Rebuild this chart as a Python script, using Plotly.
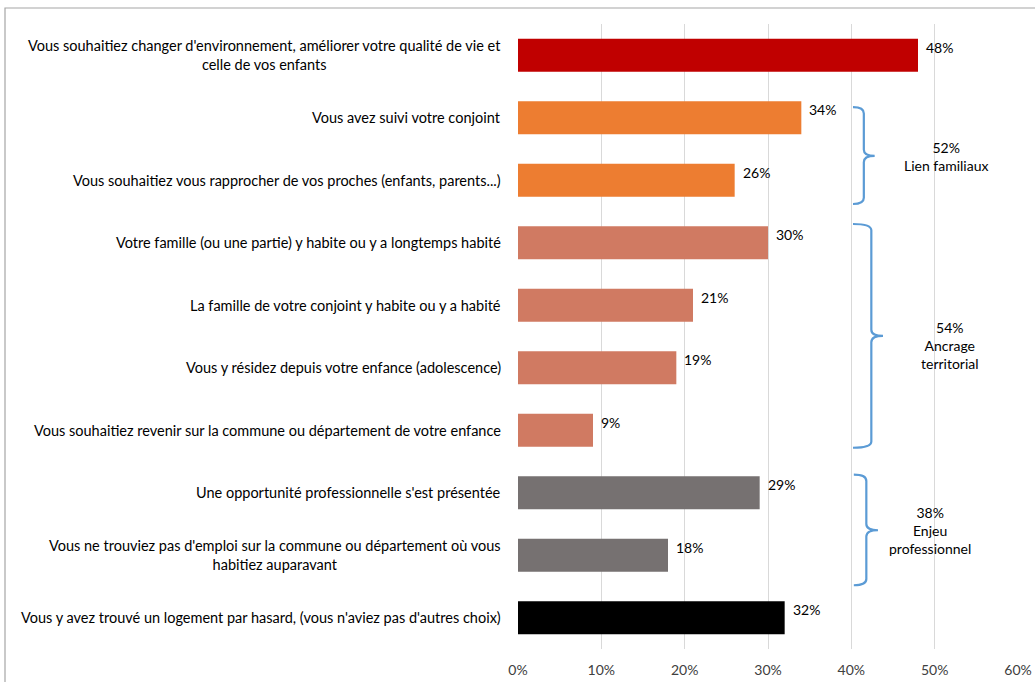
import plotly.graph_objects as go

categories = [
    "Vous souhaitiez changer d'environnement, améliorer votre qualité de vie et<br>celle de vos enfants",
    "Vous avez suivi votre conjoint",
    "Vous souhaitiez vous rapprocher de vos proches (enfants, parents...)",
    "Votre famille (ou une partie) y habite ou y a longtemps habité",
    "La famille de votre conjoint y habite ou y a habité",
    "Vous y résidez depuis votre enfance (adolescence)",
    "Vous souhaitiez revenir sur la commune ou département de votre enfance",
    "Une opportunité professionnelle s'est présentée",
    "Vous ne trouviez pas d'emploi sur la commune ou département où vous<br>habitiez auparavant",
    "Vous y avez trouvé un logement par hasard, (vous n'aviez pas d'autres choix)",
]
values = [48, 34, 26, 30, 21, 19, 9, 29, 18, 32]
bar_colors = ["#C00000", "#ED7D31", "#ED7D31", "#D07A62", "#D07A62", "#D07A62",
              "#D07A62", "#767171", "#767171", "#000000"]

group_labels = ["52%<br>Lien familiaux", "54%<br>Ancrage<br>territorial", "38%<br>Enjeu<br>professionnel"]
# brace geometry: (top, bottom, middle) in category units, (left, stem, tip) in % units
braces = [
    ((0.83, 2.38, 1.61), (40.2, 41.5, 42.8)),
    ((2.70, 6.28, 4.49), (40.2, 42.4, 43.8)),
    ((6.71, 8.48, 7.60), (40.3, 41.8, 43.2)),
]
group_label_pos = [(51.4, 1.62), (51.8, 4.65), (49.4, 7.6)]

FONT = "Lato"
idx = list(range(len(categories)))

fig = go.Figure()
fig.add_trace(go.Bar(
    y=idx, x=values, orientation="h", width=0.53,
    marker=dict(color=bar_colors, line=dict(width=0)),
    hoverinfo="skip",
))

annotations = []
for i, (cat, v) in enumerate(zip(categories, values)):
    annotations.append(dict(
        x=-0.03, xref="paper", y=i, yref="y", text=cat, showarrow=False,
        xanchor="right", yanchor="middle", align="center",
        font=dict(family=FONT, size=14.5, color="#000000"),
    ))
    annotations.append(dict(
        x=v, xref="x", y=i, yref="y", text=f"{v}%", showarrow=False,
        xanchor="left", yanchor="middle", xshift=6, yshift=8,
        font=dict(family=FONT, size=14, color="#000000"),
    ))
for lab, (gx, gy) in zip(group_labels, group_label_pos):
    annotations.append(dict(
        x=gx, xref="x", y=gy, yref="y", text=lab, showarrow=False,
        xanchor="center", yanchor="middle", align="center",
        font=dict(family=FONT, size=14, color="#000000"),
    ))

shapes = []
r = 0.1
for (y0, y1, ym), (x0, xv, xt) in braces:
    path = (f"M {x0},{y0} Q {xv},{y0} {xv},{y0 + r} L {xv},{ym - r} "
            f"Q {xv},{ym} {xt},{ym} Q {xv},{ym} {xv},{ym + r} "
            f"L {xv},{y1 - r} Q {xv},{y1} {x0},{y1}")
    shapes.append(dict(type="path", path=path, xref="x", yref="y",
                       line=dict(color="#5B9BD5", width=2.2)))
# outer chart frame
shapes.append(dict(type="rect", xref="paper", yref="paper",
                   x0=(5 - 518) / 500, x1=1.1, y0=-0.2, y1=1 + 16 / 625,
                   line=dict(color="#A6A6A6", width=1.2), layer="below"))

fig.update_layout(
    width=1035, height=682,
    margin=dict(l=518, r=17, t=24, b=33, autoexpand=False),
    paper_bgcolor="white", plot_bgcolor="white",
    showlegend=False,
    bargap=0.47,
    xaxis=dict(range=[0, 60], tickvals=[0, 10, 20, 30, 40, 50, 60],
               ticktext=["0%", "10%", "20%", "30%", "40%", "50%", "60%"],
               showgrid=True, gridcolor="#D9D9D9", gridwidth=1,
               zeroline=False, showline=False, automargin=False,
               ticks="outside", ticklen=8, tickcolor="rgba(0,0,0,0)",
               tickfont=dict(family=FONT, size=14, color="#404040"),
               fixedrange=True),
    yaxis=dict(range=[9.5, -0.5], showticklabels=False, showgrid=False,
               zeroline=False, showline=False, ticks="", fixedrange=True,
               automargin=False),
    annotations=annotations,
    shapes=shapes,
)

fig.write_html("out.html")
